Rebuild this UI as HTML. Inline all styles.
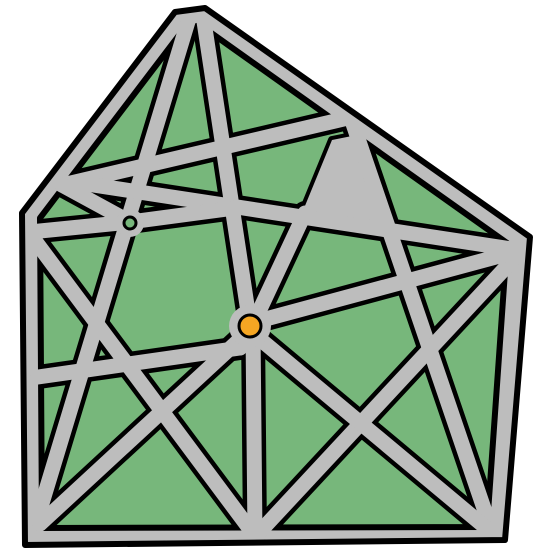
<!DOCTYPE html>
<html><head><meta charset="utf-8"><style>html,body{margin:0;padding:0;background:#fff;width:551px;height:551px;overflow:hidden}</style></head>
<body>
<svg width="551" height="551" viewBox="0 0 551 551">
<defs>
<clipPath id="inner"><polygon points="40,218 183,30 200,25 507,243 487,527 42,528"/></clipPath>
<clipPath id="outer"><polygon points="22,213 175,12 205,8 530,237 505,540 25,545"/></clipPath>
</defs>
<polygon points="22,213 175,12 205,8 530,237 505,540 25,545" fill="#bdbdbd" stroke-linejoin="round"/>
<polygon points="40,218 183,30 200,25 507,243 487,527 42,528" fill="#77b77b"/>
<polygon points="40,218 183,30 200,25 507,243 487,527 42,528" fill="none" stroke="#000" stroke-width="6" stroke-linejoin="round"/>
<g id="outlines" clip-path="url(#inner)" stroke-linecap="round">
<polygon points="332,140 357,135 388,226 300,218" fill="#000" stroke="#000" stroke-width="8" stroke-linejoin="round"/>
</g>
<g id="grays" clip-path="url(#outer)" stroke-linecap="round">
<polygon points="332,140 357,135 388,226 300,218" fill="#bdbdbd"/>
</g>
<polygon points="22,213 175,12 205,8 530,237 505,540 25,545" fill="none" stroke="#000" stroke-width="6" stroke-linejoin="round"/>
<circle cx="250" cy="326" r="21" fill="#bdbdbd"/>
<circle cx="250" cy="326" r="11" fill="#f5a623" stroke="#000" stroke-width="3"/>
<circle cx="130" cy="223" r="14" fill="#bdbdbd"/>
<circle cx="130" cy="223" r="6" fill="#77b77b" stroke="#000" stroke-width="3"/>
</svg>
<script>
const roads=[
[190,15,40,510],[203,15,250,325],[62,185,348,118],[80,183,518,250],
[350,115,492,532],[522,250,255,537],[33,238,252,532],[255,335,497,537],
[38,377,240,348],[240,348,250,328],[250,330,40,524],[253,330,255,537],
[262,320,522,250],[255,320,305,213],[30,232,130,222],[62,185,130,222],[130,222,235,208]];
const ns='http://www.w3.org/2000/svg';
const go=document.getElementById('outlines');
const gg=document.getElementById('grays');
roads.forEach(r=>{const l=document.createElementNS(ns,'line');
l.setAttribute('x1',r[0]);l.setAttribute('y1',r[1]);l.setAttribute('x2',r[2]);l.setAttribute('y2',r[3]);
l.setAttribute('stroke','#000');l.setAttribute('stroke-width','24');


go.appendChild(l);});
roads.forEach(r=>{const l=document.createElementNS(ns,'line');
l.setAttribute('x1',r[0]);l.setAttribute('y1',r[1]);l.setAttribute('x2',r[2]);l.setAttribute('y2',r[3]);
l.setAttribute('stroke','#bdbdbd');l.setAttribute('stroke-width','15');


gg.appendChild(l);});
</script>
</body></html>
